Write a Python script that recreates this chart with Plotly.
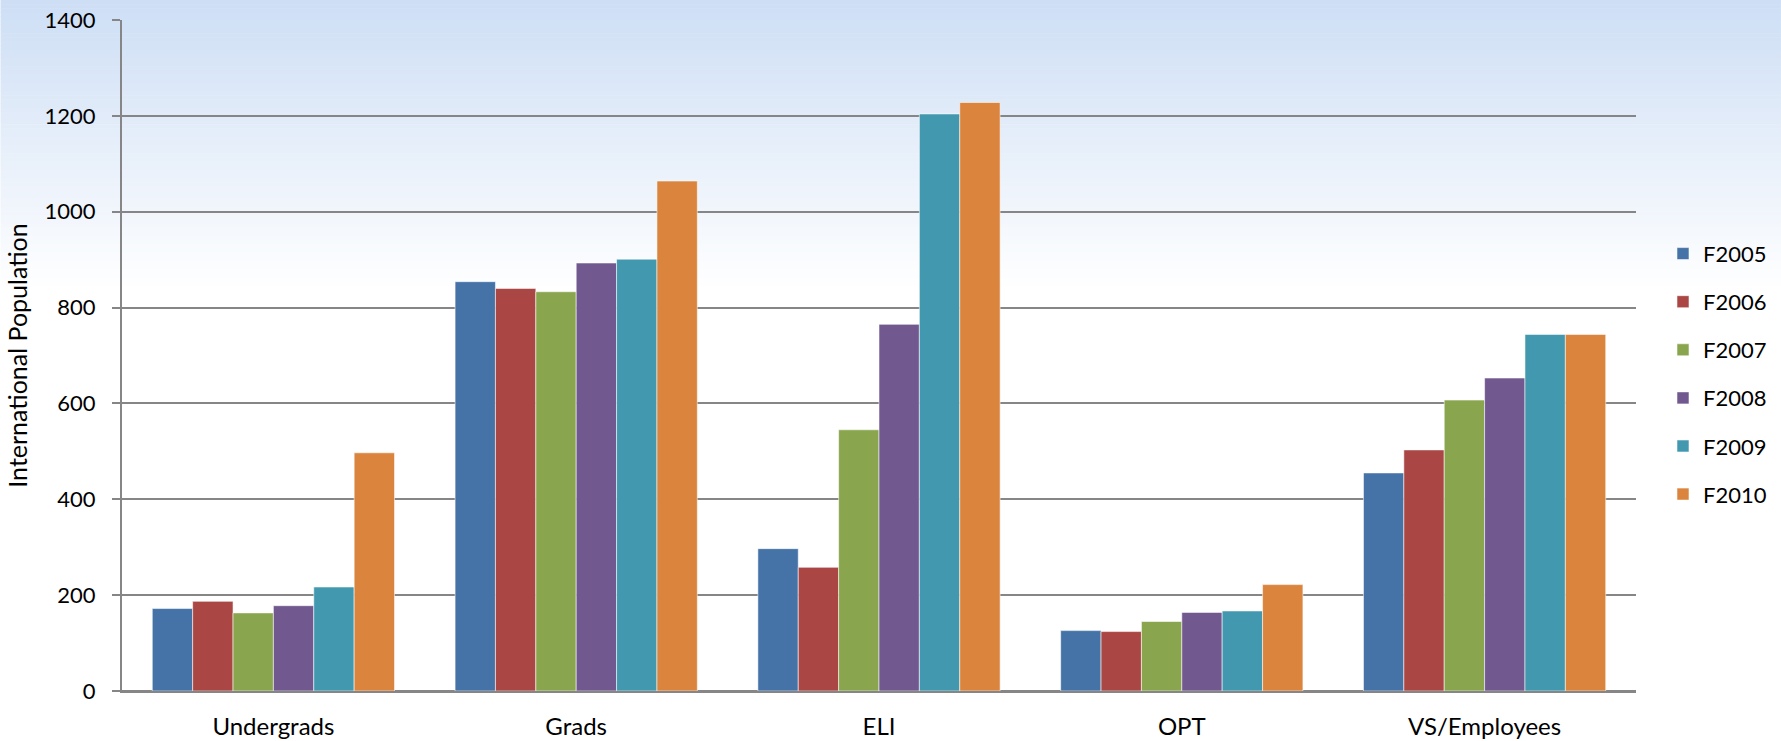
import plotly.graph_objects as go

categories = ["Undergrads", "Grads", "ELI", "OPT", "VS/Employees"]
series_names = ["F2005", "F2006", "F2007", "F2008", "F2009", "F2010"]
f2005 = [172, 854, 297, 126, 455]
f2006 = [187, 840, 258, 124, 503]
f2007 = [163, 833, 545, 145, 607]
f2008 = [178, 893, 765, 164, 653]
f2009 = [217, 901, 1204, 167, 744]
f2010 = [497, 1064, 1228, 222, 744]
y_ticks = [0, 200, 400, 600, 800, 1000, 1200, 1400]

series_values = [f2005, f2006, f2007, f2008, f2009, f2010]
colors = ["#4572a7", "#aa4643", "#89a54e", "#71588f", "#4198af", "#db843d"]

W, H = 1781, 741
L, R, T, B = 121.5, 145, 20, 49.5
plot_w = W - L - R
plot_h = H - T - B

fig = go.Figure()
for name, vals, c in zip(series_names, series_values, colors):
    fig.add_trace(go.Bar(
        x=categories, y=vals, name=name, legendgroup=name,
        marker=dict(color=c, line=dict(color="rgba(255,255,255,0.55)", width=1)),
    ))

# gradient background (stripes)
shapes = []
n = 70
top_rgb = (205, 222, 245)
grad_end = 290.0
for i in range(n):
    py0 = grad_end * i / n
    py1 = grad_end * (i + 1) / n + 0.5
    t = (i + 0.5) / n
    col = tuple(round(top_rgb[k] + (255 - top_rgb[k]) * t) for k in range(3))
    shapes.append(dict(
        type="rect", xref="paper", yref="paper", layer="below",
        x0=-L / plot_w, x1=(W - L) / plot_w,
        y0=(H - B - py1) / plot_h, y1=(H - B - py0) / plot_h,
        fillcolor="rgb(%d,%d,%d)" % col, line=dict(width=0),
    ))

font_family = "Lato, 'Open Sans', sans-serif"
fig.update_layout(
    width=W, height=H,
    margin=dict(l=L, r=R, t=T, b=B, pad=0, autoexpand=False),
    paper_bgcolor="white", plot_bgcolor="rgba(0,0,0,0)",
    barmode="group", bargap=0.2, bargroupgap=0,
    font=dict(family=font_family, size=22, color="#000000"),
    shapes=shapes,
    legend=dict(
        x=(1663 - L) / plot_w, xanchor="left", y=0.472, yanchor="middle",
        font=dict(size=22, family=font_family),
        tracegroupgap=16.5, bgcolor="rgba(0,0,0,0)",
    ),
    xaxis=dict(
        automargin=False,
        showgrid=False, showline=True, linecolor="#868686", linewidth=2,
        ticks="", ticklabelstandoff=13, tickfont=dict(size=24),
    ),
    yaxis=dict(
        automargin=False,
        range=[0, 1400], tickvals=y_ticks, showgrid=True,
        gridcolor="#868686", gridwidth=2, zeroline=True, zerolinecolor="#868686",
        zerolinewidth=2, showline=True, linecolor="#868686", linewidth=2,
        ticks="outside", ticklen=8, tickcolor="#868686", tickwidth=2,
        ticklabelstandoff=12, tickfont=dict(size=22),
        title=dict(text="International Population", font=dict(size=25), standoff=10),
    ),
)

fig.write_html("out.html")
